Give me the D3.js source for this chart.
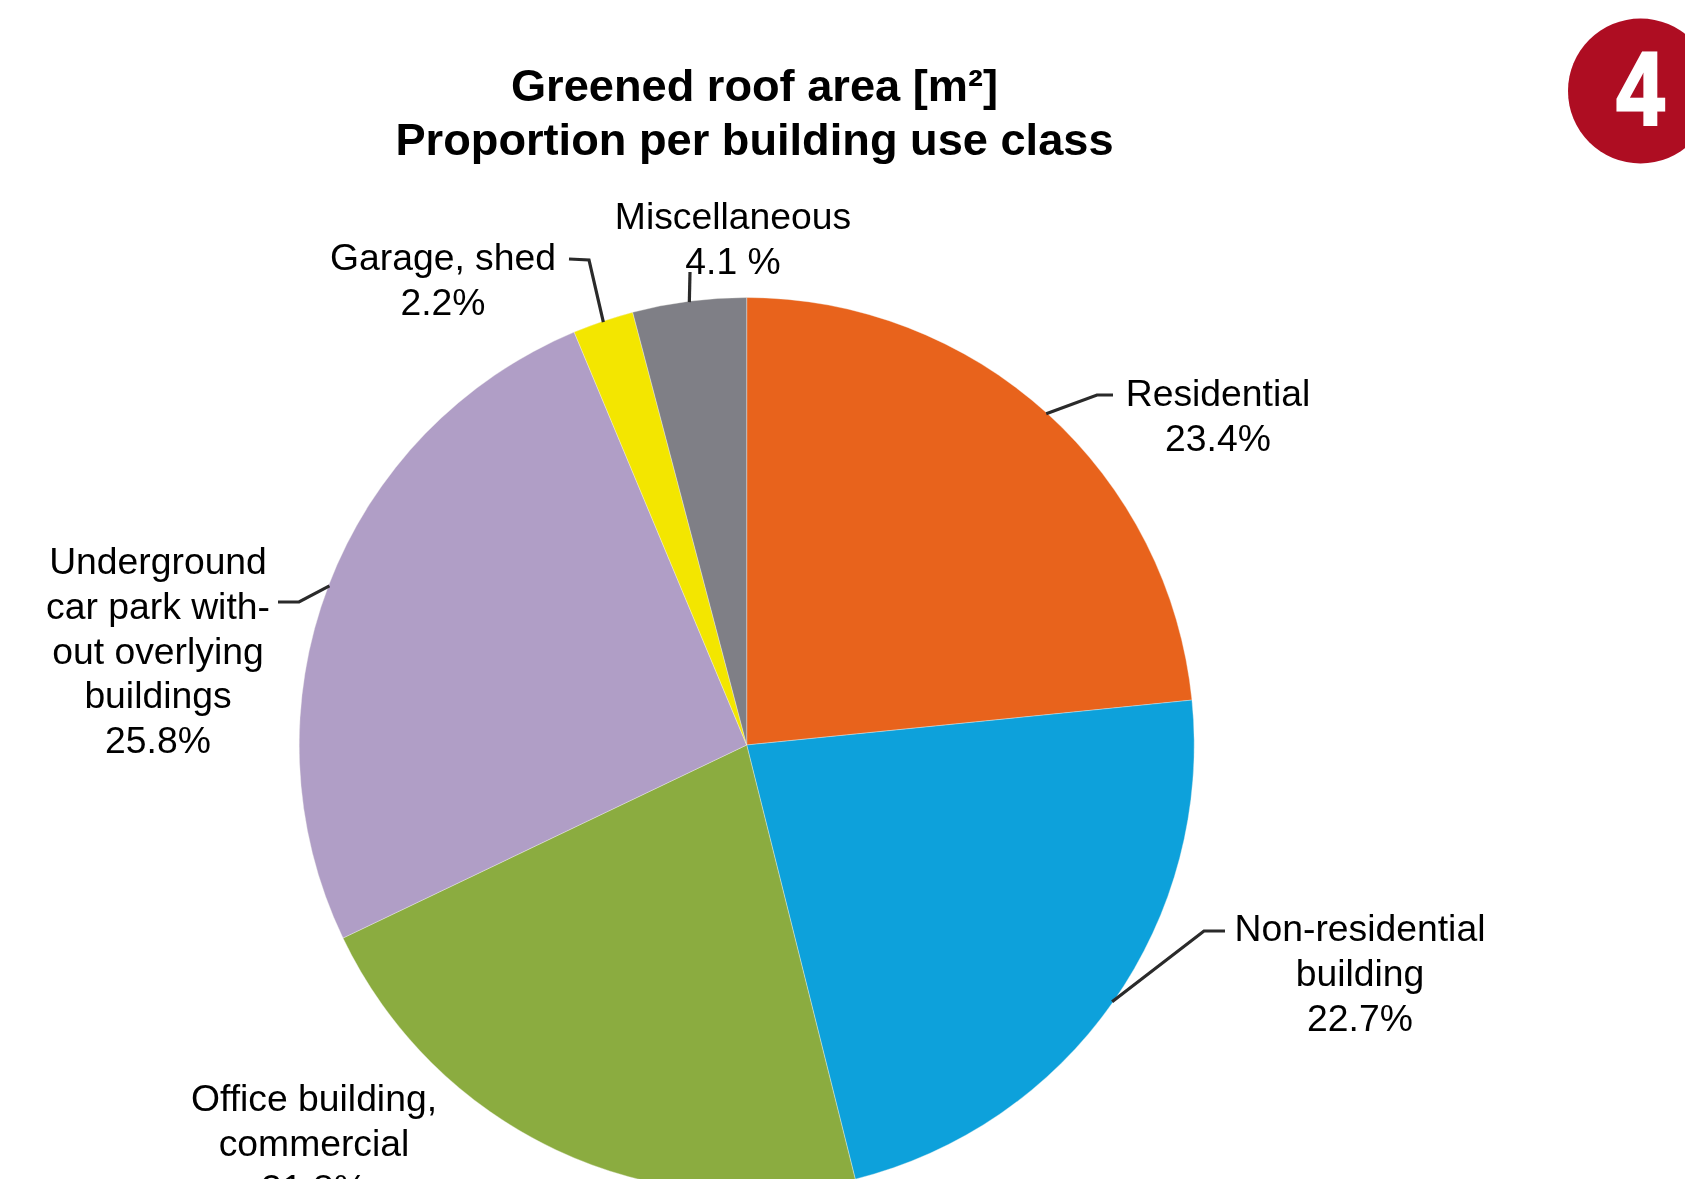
<!DOCTYPE html>
<html><head><meta charset="utf-8">
<script src="https://cdn.jsdelivr.net/npm/d3@7"></script>
<style>html,body{margin:0;padding:0;background:#fff;overflow:hidden}text{font-family:"Liberation Sans",Arial,sans-serif;fill:#050505}</style>
</head><body><svg id="c" width="1685" height="1179"></svg>
<script>
const categories=["Residential","Non-residential building","Office building, commercial","Underground car park without overlying buildings","Garage, shed","Miscellaneous"];
const values=[23.4,22.7,21.8,25.8,2.2,4.1];
const colors=["#E8641E","#0FA1DB","#8BAC41","#B09EC6","#F3E600","#7F7F86"];
const titleLines=["Greened roof area [m²]","Proportion per building use class"];
const labelLines=[["Residential","23.4%"],["Non-residential","building","22.7%"],["Office building,","commercial","21.8%"],["Underground","car park with-","out overlying","buildings","25.8%"],["Garage, shed","2.2%"],["Miscellaneous","4.1 %"]];
const labelPos=[[1218,406],[1360,941],[314,1111],[158,574],[443,270],[733,229]];
const leaderBend=[[[1097,395],[1113,395]],[[1204,931],[1225,931]],null,[[299,602],[278,602]],[[589,260],[569,259]],[[690,272]]];

const W=1685,H=1179,cx=746.7,cy=745,R=447.5,lineGap=44.8;
const svg=d3.select("#c");
const defs=svg.append("defs");
defs.append("filter").attr("id","soft").append("feGaussianBlur").attr("stdDeviation",0.6);
const root=svg.append("g").attr("filter","url(#soft)");
const g=root.append("g").attr("transform",`translate(${cx},${cy})`);
const pie=d3.pie().sort(null).value(d=>d)(values);
const arc=d3.arc().innerRadius(0).outerRadius(R);
g.selectAll("path").data(pie).join("path").attr("d",arc).attr("fill",(d,i)=>colors[i]).attr("stroke","#f4f4ee").attr("stroke-opacity",0.45).attr("stroke-width",0.8);

const line=d3.line();
pie.forEach((d,i)=>{
  if(!leaderBend[i])return;
  const a=(d.startAngle+d.endAngle)/2;
  const p=[cx+Math.sin(a)*R*0.998,cy-Math.cos(a)*R*0.998];
  root.append("path").attr("d",line([p,...leaderBend[i]])).attr("fill","none").attr("stroke","#2a2a2a").attr("stroke-width",3.2);
});

titleLines.forEach((t,i)=>root.append("text").attr("x",754.5).attr("y",101+i*54).attr("text-anchor","middle").attr("font-weight","bold").attr("font-size",45.2).text(t));

labelLines.forEach((ls,i)=>ls.forEach((t,j)=>root.append("text").attr("x",labelPos[i][0]).attr("y",labelPos[i][1]+j*lineGap).attr("text-anchor","middle").attr("font-size",37.3).text(t)));

root.append("circle").attr("cx",1640.5).attr("cy",91).attr("r",72.5).attr("fill","#AE0A22");
root.append("text").attr("transform","translate(1640.5,125) scale(0.86,1.03)").attr("text-anchor","middle").attr("font-size",100).attr("font-weight","bold").style("fill","#fff").attr("stroke","#fff").attr("stroke-width",3).text("4");
</script></body></html>
